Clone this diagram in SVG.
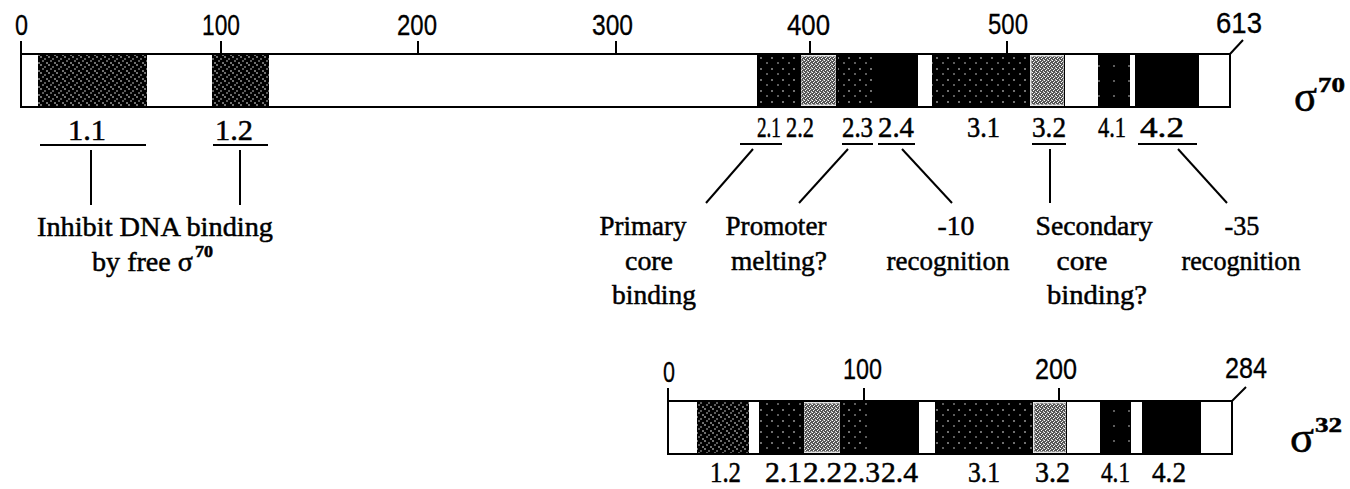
<svg xmlns="http://www.w3.org/2000/svg" width="1350" height="489" viewBox="0 0 1350 489">
<defs>
<pattern id="pA" width="8" height="8" patternUnits="userSpaceOnUse">
<rect width="8" height="8" fill="#000"/>
<circle cx="1" cy="1" r="0.8" fill="#fff"/>
<circle cx="5" cy="3" r="0.7" fill="#fff"/>
<circle cx="3" cy="5" r="0.7" fill="#fff"/>
<circle cx="7" cy="7" r="0.8" fill="#fff"/>
</pattern>
<pattern id="pB" width="11" height="11" patternUnits="userSpaceOnUse">
<rect width="11" height="11" fill="#000"/>
<circle cx="2" cy="3" r="0.8" fill="#fff"/>
<circle cx="8" cy="8" r="0.7" fill="#fff"/>
</pattern>
<pattern id="pD" width="15" height="15" patternUnits="userSpaceOnUse">
<rect width="15" height="15" fill="#000"/>
<circle cx="4" cy="6" r="0.7" fill="#fff"/>
</pattern>
<pattern id="pC" width="4" height="4" patternUnits="userSpaceOnUse">
<rect width="4" height="4" fill="#555"/>
<rect x="0" y="0" width="1" height="1" fill="#fff"/>
<rect x="2" y="1" width="1" height="1" fill="#eee"/>
<rect x="1" y="2" width="1" height="1" fill="#fff"/>
<rect x="3" y="3" width="1" height="1" fill="#ddd"/>
<rect x="3" y="0" width="1" height="1" fill="#999"/>
</pattern>
</defs>
<style>
.ln{stroke:#000;stroke-width:2;fill:none}
.bar{fill:#fff;stroke:#000;stroke-width:2}
.A{fill:url(#pA)}
.B{fill:url(#pB)}
.C{fill:url(#pC);stroke:#ccc;stroke-width:1}
.D{fill:url(#pD)}
.K{fill:#000}
text{fill:#000;stroke:#000;stroke-width:0.5}
.t{font-family:"Liberation Serif","Times New Roman",serif;font-size:28px}
.num{font-family:"Liberation Serif","Times New Roman",serif;font-size:29px}
.ax{font-family:"Liberation Sans",Arial,sans-serif;font-size:29px;stroke-width:0.3}
.sig{font-family:"Liberation Serif","Times New Roman",serif;font-size:44px}
.sup{font-family:"Liberation Serif","Times New Roman",serif;font-size:21px;font-weight:bold}
</style>
<rect width="1350" height="489" fill="#fff"/>

<g id="sigma70-bar">
<rect class="bar" x="21" y="54" width="1209" height="53"/>
<rect class="A" x="38" y="55" width="109" height="51"/>
<rect class="A" x="212" y="55" width="57" height="51"/>
<rect class="B" x="757" y="55" width="43" height="51"/>
<rect class="C" x="801" y="56" width="35" height="49"/>
<rect class="K" x="799" y="55" width="2" height="51"/>
<rect class="K" x="836" y="55" width="2" height="51"/>
<rect class="B" x="838" y="55" width="34" height="51"/>
<rect class="K" x="872" y="55" width="46" height="51"/>
<rect class="B" x="932" y="55" width="98" height="51"/>
<rect class="C" x="1031" y="56" width="33" height="49"/>
<rect class="K" x="1064" y="55" width="1" height="51"/>
<rect class="D" x="1098" y="55" width="32" height="51"/>
<rect class="K" x="1135" y="55" width="63" height="51"/>
<line class="ln" x1="1198" y1="54" x2="1198" y2="107"/>
</g>

<g id="sigma70-axis">
<line class="ln" x1="21" y1="41" x2="21" y2="54"/>
<line class="ln" x1="221" y1="41" x2="221" y2="54"/>
<line class="ln" x1="418" y1="41" x2="418" y2="54"/>
<line class="ln" x1="616" y1="41" x2="616" y2="54"/>
<line class="ln" x1="810" y1="41" x2="810" y2="54"/>
<line class="ln" x1="1007" y1="41" x2="1007" y2="54"/>
<line class="ln" x1="1230" y1="54" x2="1243" y2="40"/>
<text class="ax" x="15" y="35" textLength="13" lengthAdjust="spacingAndGlyphs">0</text>
<text class="ax" x="202" y="35" textLength="38" lengthAdjust="spacingAndGlyphs">100</text>
<text class="ax" x="397" y="35" textLength="40" lengthAdjust="spacingAndGlyphs">200</text>
<text class="ax" x="592" y="35" textLength="41" lengthAdjust="spacingAndGlyphs">300</text>
<text class="ax" x="787" y="35" textLength="43" lengthAdjust="spacingAndGlyphs">400</text>
<text class="ax" x="988" y="34" textLength="40" lengthAdjust="spacingAndGlyphs">500</text>
<text class="ax" x="1216" y="33" textLength="46" lengthAdjust="spacingAndGlyphs">613</text>
</g>

<g id="sigma70-name">
<text class="sig" x="1294" y="111" textLength="23" lengthAdjust="spacingAndGlyphs">σ</text>
<text class="sup" x="1318" y="92" textLength="27" lengthAdjust="spacingAndGlyphs">70</text>
</g>

<g id="sigma70-regions">
<text class="num" x="68" y="140" textLength="38" lengthAdjust="spacingAndGlyphs">1.1</text>
<line class="ln" x1="40" y1="145" x2="146" y2="145"/>
<text class="num" x="215" y="140" textLength="38" lengthAdjust="spacingAndGlyphs">1.2</text>
<line class="ln" x1="213" y1="145" x2="268" y2="145"/>
<text class="num" transform="translate(757,137) scale(0.66,1)">2.1</text>
<line class="ln" x1="740" y1="144" x2="782" y2="144"/>
<text class="num" transform="translate(786,137) scale(0.77,1)">2.2</text>
<text class="num" x="842" y="137" textLength="31" lengthAdjust="spacingAndGlyphs">2.3</text>
<line class="ln" x1="842" y1="144" x2="873" y2="144"/>
<text class="num" x="878" y="137" textLength="36" lengthAdjust="spacingAndGlyphs">2.4</text>
<line class="ln" x1="878" y1="144" x2="915" y2="144"/>
<text class="num" x="967" y="137" textLength="33" lengthAdjust="spacingAndGlyphs">3.1</text>
<text class="num" x="1032" y="137" textLength="34" lengthAdjust="spacingAndGlyphs">3.2</text>
<line class="ln" x1="1032" y1="144" x2="1066" y2="144"/>
<text class="num" x="1098" y="137" textLength="28" lengthAdjust="spacingAndGlyphs">4.1</text>
<text class="num" x="1140" y="137" textLength="44" lengthAdjust="spacingAndGlyphs">4.2</text>
<line class="ln" x1="1138" y1="144" x2="1197" y2="144"/>
</g>

<g id="connectors">
<line class="ln" x1="91" y1="150" x2="91" y2="205"/>
<line class="ln" x1="240" y1="150" x2="240" y2="205"/>
<line class="ln" x1="753" y1="149" x2="706" y2="203"/>
<line class="ln" x1="848" y1="149" x2="799" y2="203"/>
<line class="ln" x1="902" y1="149" x2="952" y2="203"/>
<line class="ln" x1="1050" y1="149" x2="1050" y2="203"/>
<line class="ln" x1="1178" y1="149" x2="1227" y2="203"/>
</g>

<g id="note-inhibit">
<text class="t" x="155" y="236" text-anchor="middle" textLength="236" lengthAdjust="spacingAndGlyphs">Inhibit DNA binding</text>
<text class="t" x="92" y="271" textLength="101" lengthAdjust="spacingAndGlyphs">by free σ</text>
<text class="t" x="195" y="257" style="font-size:16px;font-weight:bold" textLength="18" lengthAdjust="spacingAndGlyphs">70</text>
</g>

<g id="note-primary">
<text class="t" x="643" y="235" text-anchor="middle" textLength="87" lengthAdjust="spacingAndGlyphs">Primary</text>
<text class="t" x="649" y="270" text-anchor="middle" textLength="48" lengthAdjust="spacingAndGlyphs">core</text>
<text class="t" x="654" y="304" text-anchor="middle" textLength="84" lengthAdjust="spacingAndGlyphs">binding</text>
</g>

<g id="note-promoter">
<text class="t" x="776" y="235" text-anchor="middle" textLength="101" lengthAdjust="spacingAndGlyphs">Promoter</text>
<text class="t" x="779" y="270" text-anchor="middle" textLength="96" lengthAdjust="spacingAndGlyphs">melting?</text>
</g>

<g id="note-minus10">
<text class="t" x="956" y="235" text-anchor="middle" textLength="37" lengthAdjust="spacingAndGlyphs">-10</text>
<text class="t" x="948" y="270" text-anchor="middle" textLength="123" lengthAdjust="spacingAndGlyphs">recognition</text>
</g>

<g id="note-secondary">
<text class="t" x="1094" y="235" text-anchor="middle" textLength="117" lengthAdjust="spacingAndGlyphs">Secondary</text>
<text class="t" x="1082" y="270" text-anchor="middle" textLength="51" lengthAdjust="spacingAndGlyphs">core</text>
<text class="t" x="1097" y="304" text-anchor="middle" textLength="100" lengthAdjust="spacingAndGlyphs">binding?</text>
</g>

<g id="note-minus35">
<text class="t" x="1242" y="235" text-anchor="middle" textLength="35" lengthAdjust="spacingAndGlyphs">-35</text>
<text class="t" x="1241" y="270" text-anchor="middle" textLength="119" lengthAdjust="spacingAndGlyphs">recognition</text>
</g>

<g id="sigma32-bar">
<rect class="bar" x="668" y="401" width="564" height="53"/>
<rect class="A" x="697" y="402" width="52" height="51"/>
<rect class="B" x="759" y="402" width="44" height="51"/>
<rect class="C" x="804" y="403" width="36" height="49"/>
<rect class="K" x="803" y="402" width="1" height="51"/>
<rect class="K" x="840" y="402" width="1" height="51"/>
<rect class="B" x="841" y="402" width="29" height="51"/>
<rect class="K" x="870" y="402" width="49" height="51"/>
<rect class="B" x="935" y="402" width="98" height="51"/>
<rect class="C" x="1034" y="403" width="32" height="49"/>
<rect class="K" x="1066" y="402" width="1" height="51"/>
<rect class="D" x="1100" y="402" width="31" height="51"/>
<rect class="K" x="1142" y="402" width="58" height="51"/>
<line class="ln" x1="1200" y1="401" x2="1200" y2="454"/>
</g>

<g id="sigma32-axis">
<line class="ln" x1="668" y1="388" x2="668" y2="401"/>
<line class="ln" x1="864" y1="388" x2="864" y2="401"/>
<line class="ln" x1="1059" y1="388" x2="1059" y2="401"/>
<line class="ln" x1="1232" y1="401" x2="1246" y2="387"/>
<text class="ax" x="663" y="382" textLength="12" lengthAdjust="spacingAndGlyphs">0</text>
<text class="ax" x="843" y="379" textLength="39" lengthAdjust="spacingAndGlyphs">100</text>
<text class="ax" x="1035" y="379" textLength="42" lengthAdjust="spacingAndGlyphs">200</text>
<text class="ax" x="1225" y="378" textLength="42" lengthAdjust="spacingAndGlyphs">284</text>
</g>

<g id="sigma32-name">
<text class="sig" x="1290" y="452" textLength="24" lengthAdjust="spacingAndGlyphs">σ</text>
<text class="sup" x="1315" y="432" textLength="27" lengthAdjust="spacingAndGlyphs">32</text>
</g>

<g id="sigma32-regions">
<text class="num" x="710" y="482" textLength="31" lengthAdjust="spacingAndGlyphs">1.2</text>
<text class="num" x="765" y="482" textLength="37" lengthAdjust="spacingAndGlyphs">2.1</text>
<text class="num" x="803" y="482" textLength="39" lengthAdjust="spacingAndGlyphs">2.2</text>
<text class="num" x="843" y="482" textLength="37" lengthAdjust="spacingAndGlyphs">2.3</text>
<text class="num" x="881" y="482" textLength="37" lengthAdjust="spacingAndGlyphs">2.4</text>
<text class="num" x="968" y="482" textLength="32" lengthAdjust="spacingAndGlyphs">3.1</text>
<text class="num" x="1035" y="482" textLength="35" lengthAdjust="spacingAndGlyphs">3.2</text>
<text class="num" x="1101" y="482" textLength="29" lengthAdjust="spacingAndGlyphs">4.1</text>
<text class="num" x="1152" y="482" textLength="34" lengthAdjust="spacingAndGlyphs">4.2</text>
</g>
</svg>
